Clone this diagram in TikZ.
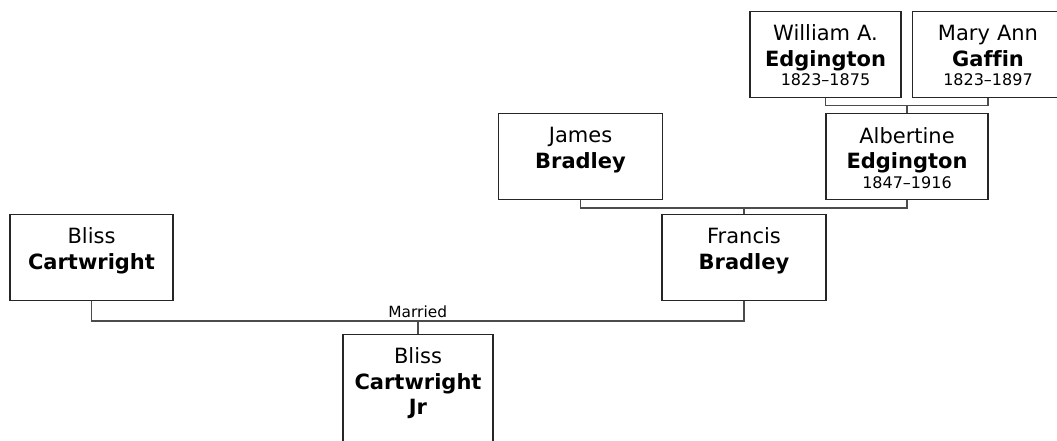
\documentclass[tikz,border=0pt]{standalone}
\usepackage{fontspec}
\setmainfont[Ligatures={TeX,NoCommon}]{DejaVu Sans}
\usetikzlibrary{calc}

\newcommand{\yrs}[1]{{\fontsize{16}{19}\selectfont #1}}

\tikzset{
  person/.style={draw=black!85, line width=1.4pt, inner xsep=0pt, inner ysep=0pt,
    text width=#1, align=center, anchor=north,
    text height=29.5pt, text depth=56.5pt,
    font=\fontsize{21}{25.6}\selectfont},
  link/.style={draw=black!70, line width=1.4pt},
}

\begin{document}
\begin{tikzpicture}[x=1pt, y=-1pt]
   \useasboundingbox (0,0) rectangle (1057,440);
   \clip (0,0) rectangle (1057,440);
   \foreach \id/\x/\y/\w/\txt in
     {will/825.5/10.5/151/{William A.\\\textbf{Edgington}\\[-6.3pt]\yrs{1823--1875}},
      mary/988/10.5/151/{Mary Ann\\\textbf{Gaffin}\\[-6.3pt]\yrs{1823--1897}},
      albe/907/113/162/{Albertine\\\textbf{Edgington}\\[-6.3pt]\yrs{1847--1916}},
      james/580.5/112.5/164/{James\\\textbf{Bradley}},
      fran/744/213.5/164/{Francis\\\textbf{Bradley}},
      bliss/91.5/213.5/163/{Bliss\\\textbf{Cartwright}}
     }
     \node[person=\w pt] (\id) at (\x,\y) {\txt};
   \node[person=150pt, text depth=140pt] (jr) at (418,333.5) {Bliss\\\textbf{Cartwright}\\\textbf{Jr}};

   % parents -> child
   \coordinate (j1) at ([yshift=-7.5pt]$(will.south)!.5!(mary.south)$);
   \draw[link] (will.south) |- (j1) -| (mary.south);
   \draw[link] (albe.north) -- (albe.north |- j1);

   \coordinate (j2) at ([yshift=-8pt]$(james.south)!.5!(albe.south)$);
   \draw[link] (james.south) |- (j2) -| (albe.south);
   \draw[link] (fran.north) -- (fran.north |- j2);

   \coordinate (j3) at ([yshift=-20pt]$(bliss.south)!.5!(fran.south)$);
   \draw[link] (bliss.south) |- (j3) -| (fran.south);
   \draw[link] (jr.north) -- (jr.north |- j3);
   \node[anchor=base, font=\fontsize{15.4}{18}\selectfont] (wed) at ([yshift=3.5pt]j3) {Married};
\end{tikzpicture}
\end{document}
